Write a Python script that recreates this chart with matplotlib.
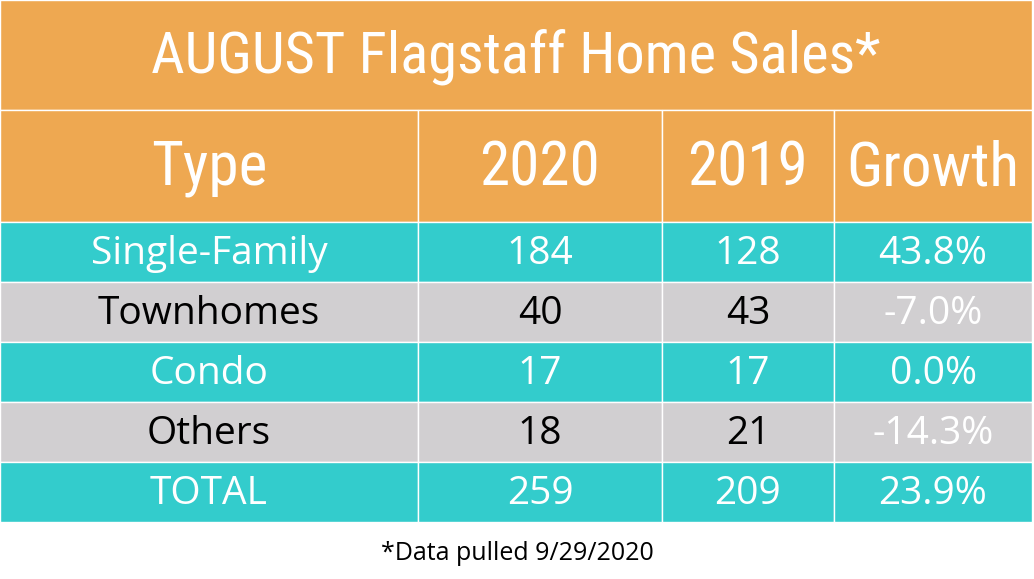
import matplotlib
matplotlib.use("Agg")
import matplotlib.pyplot as plt
from matplotlib.patches import Rectangle

title = "AUGUST Flagstaff Home Sales*"
headers = ["Type", "2020", "2019", "Growth"]
types = ["Single-Family", "Townhomes", "Condo", "Others", "TOTAL"]
sales_2020 = [184, 40, 17, 18, 259]
sales_2019 = [128, 43, 17, 21, 209]
growth = ["43.8%", "-7.0%", "0.0%", "-14.3%", "23.9%"]
footnote = "*Data pulled 9/29/2020"

ORANGE = "#EEA851"
TEAL = "#33CCCC"
GREY = "#D1CFD1"

fig = plt.figure(figsize=(10.34, 5.79), dpi=100)
ax = fig.add_axes([0, 0, 1, 1])
ax.set_xlim(0, 1034)
ax.set_ylim(579, 0)
ax.axis("off")

cols = [0, 418, 662, 834, 1032]
narrow = ["Liberation Sans Narrow", "Roboto Condensed", "DejaVu Sans"]
body = ["Open Sans", "Liberation Sans"]

ax.add_patch(Rectangle((0, 0), 1032, 110, fc=ORANGE, ec="white", lw=1))
ax.text(516, 57, title, ha="center", va="center", color="white", fontsize=42, family=narrow)
for i, h in enumerate(headers):
    ax.add_patch(Rectangle((cols[i], 110), cols[i+1]-cols[i], 112, fc=ORANGE, ec="white", lw=1))
    ax.text((cols[i]+cols[i+1])/2, 168, h, ha="center", va="center", color="white", fontsize=44, family=narrow)

row_h = 60
for r in range(len(types)):
    y0 = 222 + r*row_h
    teal = r % 2 == 0
    fc = TEAL if teal else GREY
    tc = "white" if teal else "black"
    vals = [types[r], str(sales_2020[r]), str(sales_2019[r]), growth[r]]
    for c, v in enumerate(vals):
        ax.add_patch(Rectangle((cols[c], y0), cols[c+1]-cols[c], row_h, fc=fc, ec="white", lw=1))
        color = "white" if c == 3 else tc
        ax.text((cols[c]+cols[c+1])/2, y0+row_h/2+2, v, ha="center", va="center",
                color=color, fontsize=28, family=body)

ax.text(517, 553, footnote, ha="center", va="center", color="black", fontsize=18, family=body)
fig.savefig("out.png", dpi=100)
